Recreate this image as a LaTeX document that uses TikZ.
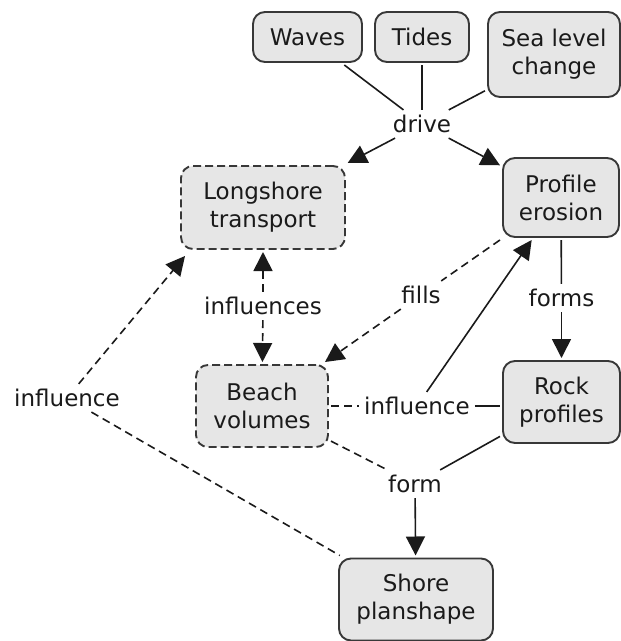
\documentclass[tikz,border=0pt]{standalone}
\usepackage{fontspec}
\setmainfont{DejaVu Sans}
\usetikzlibrary{arrows.meta}
\definecolor{boxfill}{HTML}{E6E6E6}
\definecolor{boxline}{HTML}{383838}
\definecolor{ink}{HTML}{1A1A1A}
\begin{document}
\begin{tikzpicture}
  [x=1pt,y=-1pt,
   every node/.style={font=\fontsize{23}{28}\selectfont,align=center,text=ink},
   concept/.style={draw=boxline,fill=boxfill,line width=1.9pt,rounded corners=12pt,
                   inner sep=0pt,outer sep=3pt},
   vague/.style={concept,dash pattern=on 8pt off 4pt},
   link/.style={inner sep=5pt},
   conn/.style={line width=1.6pt,draw=ink},
   loose/.style={conn,dash pattern=on 8pt off 5pt},
   >={Triangle[length=19pt,width=19pt]}]

  \useasboundingbox (0,0) rectangle (621,641);

  % concepts
  \node [concept,minimum width=109pt,minimum height=50pt] (waves) at (307.5,37) {Waves};
  \node [concept,minimum width=94pt,minimum height=50pt] (tides) at (422,37) {Tides};
  \node [concept,minimum width=132pt,minimum height=85pt] (sea) at (554,54.5) {Sea level\\change};
  \node [vague,minimum width=164pt,minimum height=83pt] (longshore) at (263,207.5) {Longshore\\transport};
  \node [concept,minimum width=116pt,minimum height=79pt] (profile) at (561,197.5) {Profile\\erosion};
  \node [vague,minimum width=132pt,minimum height=82pt] (beach) at (262,406) {Beach\\volumes};
  \node [concept,minimum width=117pt,minimum height=82pt] (rock) at (561.5,402) {Rock\\profiles};
  \node [concept,minimum width=154pt,minimum height=82pt] (shore) at (416,599.5) {Shore\\planshape};

  % linking words
  \node [link] (drive) at (422,124) {drive};
  \node [link] (influences) at (263,306) {influences};
  \node [link] (fills) at (421,295) {fills};
  \node [link] (forms) at (561.5,298) {forms};
  \node [link] (inflmid) at (417,406) {influence};
  \node [link] (inflleft) at (67,398) {influence};
  \node [link] (form) at (415,484) {form};

  % connectors
  \draw [conn] (waves) -- (drive);
  \draw [conn] (tides) -- (drive);
  \draw [conn] (sea) -- (drive);
  \draw [conn,->] (drive) -- (longshore);
  \draw [conn,->] (drive) -- (profile);
  \draw [loose,->] (influences) -- (longshore);
  \draw [loose,->] (influences) -- (beach);
  \draw [loose] (profile) -- (fills);
  \draw [loose,->] (fills) -- (beach);
  \draw [conn] (profile) -- (forms);
  \draw [conn,->] (forms) -- (rock);
  \draw [loose] (beach) -- (inflmid);
  \draw [conn] (inflmid) -- (inflmid -| rock.west);
  \draw [conn,->] (inflmid) -- (profile);
  \draw [loose,->] (inflleft) -- ([shift={(7,4)}]longshore.south west);
  \draw [loose] (inflleft) -- (shore);
  \draw [loose] (beach) -- (form);
  \draw [conn] (rock) -- (form);
  \draw [conn,->] (form) -- (shore);
\end{tikzpicture}
\end{document}
